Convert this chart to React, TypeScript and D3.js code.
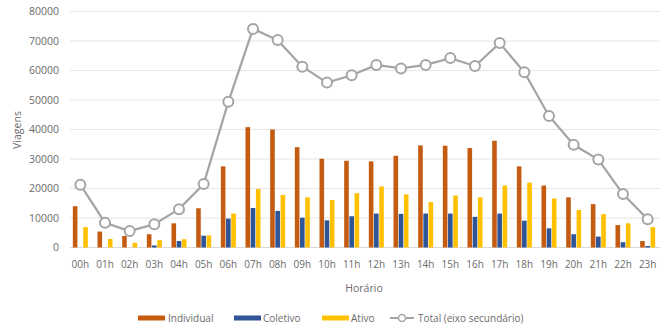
import React from "react";
import * as d3 from "d3";

const hours = ["00h","01h","02h","03h","04h","05h","06h","07h","08h","09h","10h","11h","12h","13h","14h","15h","16h","17h","18h","19h","20h","21h","22h","23h"];
const individual = [14000,5400,3900,4500,8200,13300,27500,40800,40000,34000,30100,29400,29200,31100,34600,34500,33700,36200,27500,21000,17000,14700,7600,2200];
const coletivo = [0,0,0,700,2200,4000,9800,13400,12400,10100,9200,10600,11500,11400,11500,11500,10400,11500,9100,6500,4500,3700,1800,500];
const ativo = [6900,2900,1600,2500,2800,4100,11500,19800,17800,17000,16100,18400,20700,18000,15400,17600,17000,21000,22000,16600,12700,11300,8200,6900];
const total = [21300,8400,5600,7900,13000,21500,49400,74100,70300,61300,55900,58400,61900,60700,61900,64200,61500,69300,59400,44600,34800,29800,18100,9600];
const yTicks = [0,10000,20000,30000,40000,50000,60000,70000,80000];

const seriesNames = ["Individual", "Coletivo", "Ativo"];
const seriesData = [individual, coletivo, ativo];
const colors = ["#C55A11", "#2F5597", "#FFC000"];
const lineColor = "#A5A5A5";
const textColor = "#6b6b6b";
const font = "'Open Sans', sans-serif";

export default function App() {
  const W = 664, H = 329;
  const x0 = 68, x1 = 660;
  const x = d3.scaleBand<string>().domain(hours).range([x0, x1]).paddingInner(0).paddingOuter(0);
  const y = d3.scaleLinear().domain([0, 80000]).range([247.5, 11.5]);
  const bw = 4.6, off = 5.2;
  const cx = (h: string) => (x(h) as number) + x.bandwidth() / 2;
  const line = d3.line<number>().x((_, i) => cx(hours[i])).y((d) => y(d));

  const legendItems = [
    { kind: "bar", color: colors[0], label: seriesNames[0], x: 138, tx: 168 },
    { kind: "bar", color: colors[1], label: seriesNames[1], x: 234, tx: 263 },
    { kind: "bar", color: colors[2], label: seriesNames[2], x: 322, tx: 351 },
  ];

  return (
    <svg width={W} height={H} style={{ position: "fixed", left: 0, top: 0, background: "#fff" }} fontFamily={font}>
      {yTicks.map((t) => (
        <g key={t}>
          <line x1={x0 + 2} x2={x1} y1={y(t)} y2={y(t)} stroke={t === 0 ? "#d9d9d9" : "#e6e6e6"} strokeWidth={1} />
          <text x={59} y={y(t)} dy="0.35em" textAnchor="end" fontSize={10.5} fill={textColor}>{t}</text>
        </g>
      ))}
      {hours.map((h, i) => (
        <g key={h}>
          {seriesData.map((s, k) => (
            <rect key={k} x={cx(h) + (k - 1) * off - bw / 2} y={y(s[i])} width={bw} height={y(0) - y(s[i])} fill={colors[k]} />
          ))}
          <text x={cx(h)} y={264} dy="0.35em" textAnchor="middle" fontSize={10} fill={textColor}>{h}</text>
        </g>
      ))}
      <path d={line(total) || ""} fill="none" stroke={lineColor} strokeWidth={2.25} />
      {total.map((v, i) => (
        <circle key={i} cx={cx(hours[i])} cy={y(v)} r={5} fill="#fff" stroke={lineColor} strokeWidth={2} />
      ))}
      <text x={364} y={288} dy="0.35em" textAnchor="middle" fontSize={10.5} fill={textColor}>Horário</text>
      <text transform={`translate(17,130) rotate(-90)`} dy="0.35em" textAnchor="middle" fontSize={10.5} fill={textColor}>Viagens</text>
      {legendItems.map((it) => (
        <g key={it.label}>
          <rect x={it.x} y={315.5} width={27} height={5} fill={it.color} />
          <text x={it.tx} y={318} dy="0.35em" fontSize={10} fill={textColor}>{it.label}</text>
        </g>
      ))}
      <line x1={390} x2={414} y1={318} y2={318} stroke={lineColor} strokeWidth={2} />
      <circle cx={402} cy={318} r={3.5} fill="#fff" stroke={lineColor} strokeWidth={1.5} />
      <text x={418} y={318} dy="0.35em" fontSize={10} fill={textColor}>Total (eixo secundário)</text>
    </svg>
  );
}
